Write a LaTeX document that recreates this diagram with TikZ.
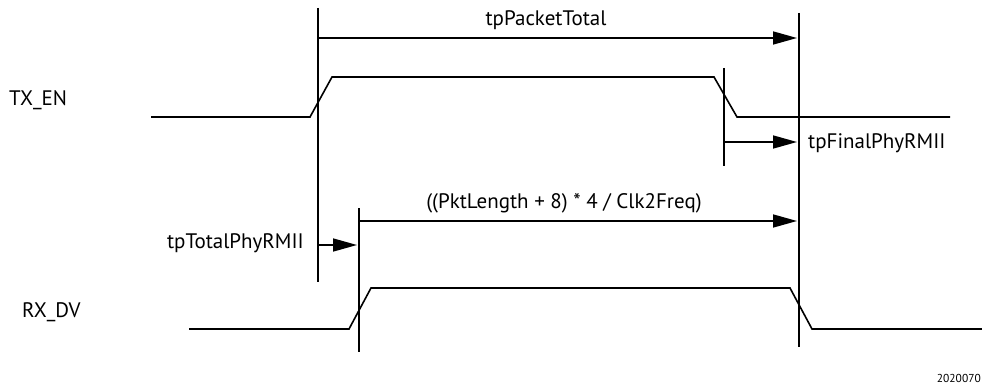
\documentclass[tikz,border=0pt]{standalone}
\usepackage{fontspec}
\setmainfont{PT Sans}
\usetikzlibrary{arrows.meta,positioning}

\begin{document}
\begin{tikzpicture}[
  x=1pt, y=-1pt,
  sig/.style={line width=1.6pt, line join=miter},
  tick/.style={line width=1.6pt},
  dim/.style={line width=1.6pt, -{Triangle[length=24pt,width=13pt]}},
  lbl/.style={inner sep=0pt, font=\fontsize{21}{24}\selectfont},
  note/.style={inner sep=0pt, font=\fontsize{11.5}{13}\selectfont},
]
\useasboundingbox (0,0) rectangle (982,385);

\coordinate (sof-top) at (318,8);   \coordinate (sof-bot) at (318,282);
\coordinate (rxs-top) at (359,208); \coordinate (rxs-bot) at (359,352);
\coordinate (txe-top) at (724,68);  \coordinate (txe-bot) at (724,166);
\coordinate (eof-top) at (799,13);  \coordinate (eof-bot) at (799,347);

\draw[tick] (sof-top) -- (sof-bot);
\draw[tick] (rxs-top) -- (rxs-bot);
\draw[tick] (txe-top) -- (txe-bot);
\draw[tick] (eof-top) -- (eof-bot);

\draw[sig] (151,117) -- (310,117) -- (332,77) -- (714,77) -- (737,117) -- (950,117);
\draw[sig] (189,329) -- (349,329) -- (371,288) -- (790,288) -- (812,329) -- (982,329);

\coordinate (pkt-a) at (sof-top |- 0,38);  \coordinate (pkt-b) at (797,38);
\coordinate (fin-a) at (txe-top |- 0,142); \coordinate (fin-b) at (797,142);
\coordinate (len-a) at (rxs-top |- 0,221); \coordinate (len-b) at (797,221);
\coordinate (tot-a) at (sof-top |- 0,245); \coordinate (tot-b) at (357,245);

\draw[dim] (pkt-a) -- (pkt-b);
\draw[dim] (fin-a) -- (fin-b);
\draw[dim] (len-a) -- (len-b);
\draw[dim] (tot-a) -- (tot-b);

\node[lbl, anchor=base west] (txen) at (9,106) {TX\_EN};
\node[lbl, anchor=base west] (rxdv) at (22,317) {RX\_DV};
\node[lbl, anchor=base] (pkttotal) at (546,26) {tpPacketTotal};
\node[lbl, anchor=base west] (finalphy) at (808,149) {tpFinalPhyRMII};
\node[lbl, anchor=base east] (totalphy) at (304,248) {tpTotalPhyRMII};
\node[lbl, anchor=base] (pktlen) at (564,208) {((PktLength + 8) * 4 / Clk2Freq)};
\node[note, anchor=east] (figno) at (981,378) {2020070};
\end{tikzpicture}
\end{document}
